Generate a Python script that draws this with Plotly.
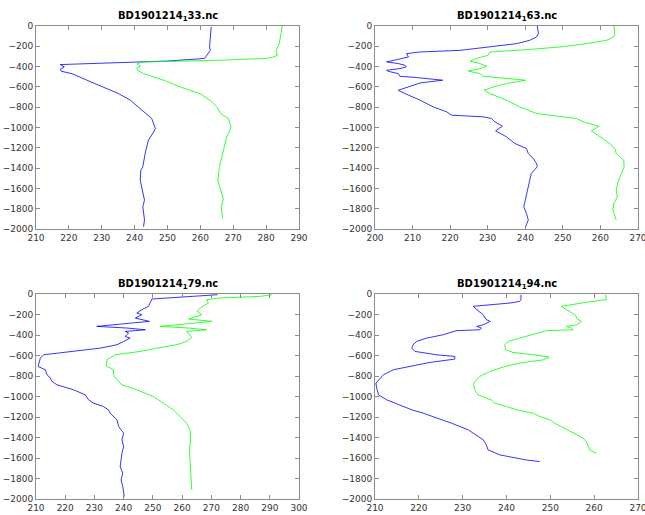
import plotly.graph_objects as go

# Profile 33
depth_33_b = [-10, -200, -240, -300, -320, -345, -365, -380, -403, -426, -446, -469, -534, -600, -666, -731, -797, -862, -911, -1010, -1043, -1125, -1256, -1387, -1420, -1518, -1649, -1715, -1780, -1846, -1911, -1977]
blue_33 = [263.3, 262.8, 263.0, 261.8, 261.3, 250.0, 228.0, 217.4, 218.6, 217.4, 217.7, 220.9, 225.5, 230.6, 235.1, 238.7, 241.2, 243.4, 245.2, 246.3, 245.8, 244.2, 243.2, 242.5, 241.9, 241.7, 242.5, 243.0, 242.5, 242.7, 243.0, 242.7]
depth_33_g = [0, -75, -174, -240, -289, -305, -320, -338, -354, -370, -397, -413, -436, -469, -534, -600, -666, -731, -797, -862, -911, -993, -1026, -1092, -1190, -1289, -1387, -1518, -1616, -1705, -1780, -1846, -1895]
green_33 = [284.9, 284.5, 284.0, 283.0, 283.4, 282.2, 280.2, 265.0, 242.7, 240.7, 241.7, 240.7, 240.9, 242.7, 248.8, 253.8, 259.9, 262.9, 265.0, 266.2, 268.5, 269.3, 269.0, 268.0, 267.2, 266.5, 265.8, 265.3, 266.2, 267.0, 266.3, 266.5, 266.8]

# Profile 63
depth_63_b = [0, -75, -108, -141, -174, -207, -240, -256, -272, -305, -338, -354, -370, -387, -403, -420, -436, -446, -469, -495, -508, -534, -561, -584, -616, -633, -666, -731, -797, -846, -879, -895, -911, -944, -987, -1033, -1092, -1157, -1207, -1256, -1305, -1354, -1387, -1452, -1518, -1584, -1649, -1715, -1780, -1846, -1911, -1977]
blue_63 = [243.2, 243.5, 243.0, 241.2, 237.7, 230.6, 222.6, 212.0, 208.4, 208.9, 205.3, 203.1, 206.2, 208.0, 208.3, 206.6, 203.1, 203.5, 206.2, 206.6, 211.1, 218.0, 212.0, 210.2, 207.5, 206.2, 208.0, 212.0, 215.5, 219.1, 220.4, 228.8, 231.0, 231.9, 233.9, 232.1, 235.0, 237.2, 240.3, 240.8, 242.1, 243.0, 243.2, 241.6, 241.2, 240.8, 240.3, 239.9, 239.6, 240.3, 240.8, 240.1]
depth_63_g = [0, -75, -108, -141, -174, -207, -233, -256, -289, -320, -348, -370, -397, -420, -443, -469, -495, -508, -534, -567, -600, -633, -666, -731, -797, -862, -895, -911, -944, -987, -1033, -1092, -1157, -1207, -1256, -1321, -1387, -1452, -1534, -1616, -1682, -1748, -1813, -1911]
green_63 = [263.6, 263.8, 263.5, 261.6, 256.3, 249.2, 240.3, 230.6, 230.1, 227.0, 225.3, 227.9, 229.7, 228.0, 224.8, 227.9, 228.8, 232.3, 240.1, 235.0, 231.5, 229.0, 230.6, 235.0, 238.5, 243.0, 250.0, 253.6, 255.4, 259.6, 257.6, 259.8, 262.5, 263.8, 264.2, 266.2, 266.3, 265.6, 264.7, 264.2, 264.5, 263.6, 263.3, 264.2]

# Profile 79
depth_79_b = [-7, -29, -49, -72, -120, -153, -186, -202, -235, -267, -300, -316, -332, -349, -365, -381, -414, -430, -463, -495, -528, -560, -593, -625, -674, -707, -739, -788, -821, -853, -886, -935, -984, -1033, -1065, -1098, -1130, -1163, -1228, -1293, -1358, -1423, -1489, -1554, -1619, -1684, -1749, -1814, -1879, -1977]
blue_79 = [272.1, 261.6, 249.6, 249.3, 248.5, 246.2, 244.5, 246.2, 244.0, 248.8, 235.4, 230.8, 241.1, 247.4, 240.5, 241.7, 240.5, 242.2, 240.0, 237.7, 232.0, 222.9, 212.6, 211.5, 210.9, 210.7, 213.2, 213.8, 214.9, 215.5, 217.2, 222.9, 226.9, 228.0, 229.7, 233.1, 234.8, 235.4, 237.7, 238.3, 240.0, 239.4, 240.0, 239.4, 239.1, 238.8, 239.7, 239.1, 239.7, 240.2]
depth_79_g = [-7, -23, -39, -55, -88, -137, -169, -202, -244, -267, -300, -316, -332, -349, -365, -397, -423, -463, -495, -528, -560, -593, -642, -700, -739, -788, -837, -886, -935, -1000, -1065, -1130, -1195, -1261, -1326, -1423, -1521, -1619, -1717, -1814, -1912]
green_79 = [290.7, 286.7, 273.0, 268.4, 269.0, 266.2, 265.1, 266.7, 262.2, 270.2, 258.2, 252.5, 262.2, 268.4, 261.6, 262.7, 263.3, 261.6, 258.2, 251.4, 245.7, 237.1, 234.3, 234.0, 236.5, 236.5, 237.7, 239.4, 244.5, 250.2, 253.6, 257.0, 259.3, 261.6, 262.7, 262.9, 262.5, 262.7, 262.9, 263.3, 263.3]

# Profile 94
depth_94_b = [-7, -55, -72, -88, -120, -153, -202, -251, -267, -300, -316, -332, -349, -358, -397, -430, -463, -495, -528, -560, -593, -609, -635, -668, -700, -739, -788, -837, -870, -919, -984, -1033, -1065, -1098, -1130, -1163, -1195, -1228, -1261, -1293, -1326, -1358, -1391, -1423, -1472, -1521, -1570, -1596, -1619, -1635]
blue_94 = [243.3, 243.3, 243.0, 240.8, 232.4, 233.2, 234.7, 235.4, 236.3, 234.7, 233.2, 234.3, 233.9, 228.5, 225.6, 221.8, 219.5, 218.7, 218.4, 219.1, 224.0, 228.2, 228.2, 222.5, 218.7, 214.2, 211.9, 210.8, 210.2, 210.4, 210.8, 212.7, 214.6, 216.5, 218.4, 221.0, 223.3, 225.2, 227.5, 229.4, 231.3, 232.4, 233.5, 234.7, 235.4, 235.8, 238.5, 241.5, 244.5, 247.6]
depth_94_g = [-7, -55, -81, -120, -153, -202, -244, -267, -300, -316, -332, -349, -358, -397, -430, -463, -495, -544, -570, -593, -616, -642, -674, -707, -756, -804, -870, -935, -984, -1033, -1065, -1098, -1130, -1163, -1195, -1228, -1261, -1293, -1326, -1358, -1407, -1440, -1489, -1521, -1554]
green_94 = [262.6, 262.8, 258.2, 252.5, 253.7, 255.6, 256.2, 257.1, 256.0, 253.7, 254.8, 255.2, 249.1, 246.1, 243.0, 240.4, 239.6, 239.8, 241.5, 246.1, 249.7, 248.4, 243.0, 239.6, 236.2, 233.9, 232.5, 232.7, 233.5, 236.5, 237.3, 240.0, 242.3, 246.1, 247.6, 249.9, 251.0, 252.5, 254.0, 255.2, 257.5, 258.2, 258.6, 259.0, 260.5]

titles = ["BD1901214<sub>1</sub>33.nc", "BD1901214<sub>1</sub>63.nc",
          "BD1901214<sub>1</sub>79.nc", "BD1901214<sub>1</sub>94.nc"]
x_ranges = [[210, 290], [200, 270], [210, 300], [210, 270]]

panels = [
    (depth_33_b, blue_33, depth_33_g, green_33),
    (depth_63_b, blue_63, depth_63_g, green_63),
    (depth_79_b, blue_79, depth_79_g, green_79),
    (depth_94_b, blue_94, depth_94_g, green_94),
]

# plot boxes in pixels (left, right, top, bottom) of the 645x515 page
W, H = 645, 515
boxes = [(36, 299, 26, 229), (375, 638, 26, 229),
         (36, 299, 294, 499), (375, 638, 294, 499)]

fig = go.Figure()
axis_style = dict(showline=True, linecolor="#8c8c8c", linewidth=1, mirror="ticks",
                  ticks="inside", ticklen=4, tickcolor="#8c8c8c",
                  showgrid=False, zeroline=False, automargin=False,
                  ticklabeloverflow="allow",
                  tickfont=dict(family="DejaVu Sans", size=9, color="#333333"))

for i, (db, b, dg, g) in enumerate(panels):
    n = "" if i == 0 else str(i + 1)
    fig.add_trace(go.Scatter(x=b, y=db, mode="lines", line=dict(color="#0000ff", width=0.8),
                             xaxis="x" + n, yaxis="y" + n, showlegend=False))
    fig.add_trace(go.Scatter(x=g, y=dg, mode="lines", line=dict(color="#00ff00", width=0.8),
                             xaxis="x" + n, yaxis="y" + n, showlegend=False))
    l, r, t, btm = boxes[i]
    fig.update_layout({
        "xaxis" + n: dict(domain=[l / W, r / W], range=x_ranges[i], dtick=10,
                          anchor="y" + n, **axis_style),
        "yaxis" + n: dict(domain=[1 - btm / H, 1 - t / H], range=[-2000, 0], dtick=200,
                          anchor="x" + n, **axis_style),
    })
    fig.add_annotation(text="<b>" + titles[i] + "</b>", x=(l + r) / 2 / W, y=1 - (t - 1) / H,
                       xref="paper", yref="paper", xanchor="center", yanchor="bottom",
                       showarrow=False, font=dict(family="DejaVu Sans", size=10, color="black"))

fig.update_layout(width=W, height=H, margin=dict(l=0, r=0, t=0, b=0),
                  paper_bgcolor="white", plot_bgcolor="white")

# drop the default page margin so the figure sits at the window's corner
fig.write_html("out.html", config={"displayModeBar": False},
               post_script="document.body.style.margin='0';")
